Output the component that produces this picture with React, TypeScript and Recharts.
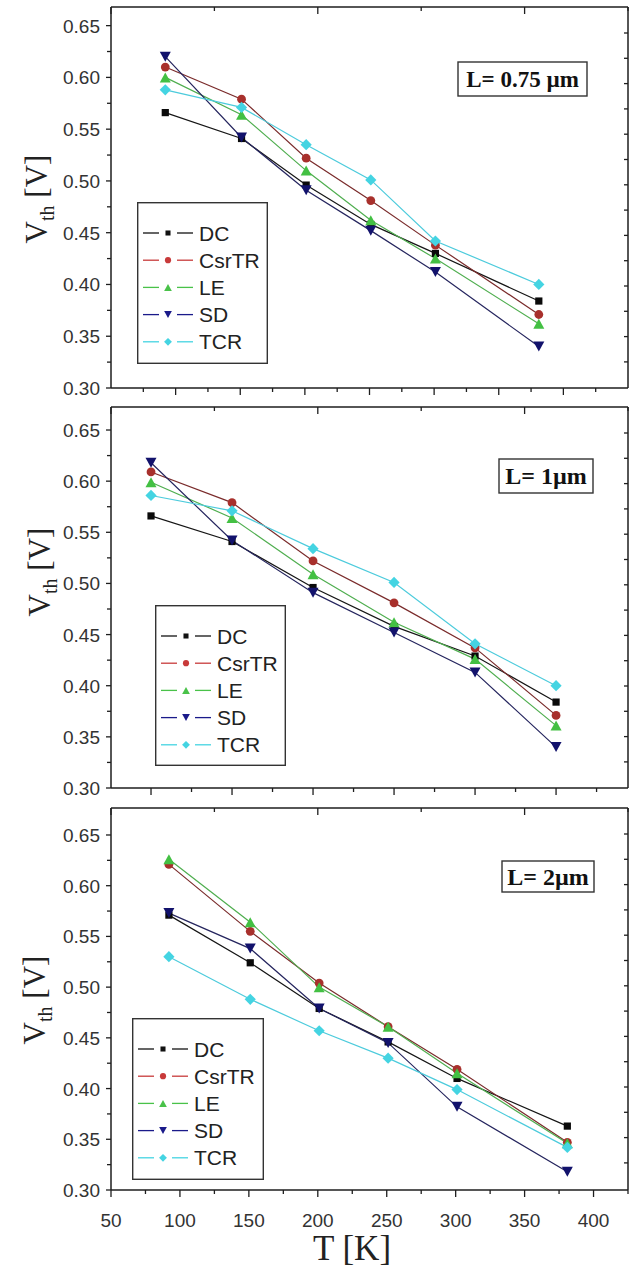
import React from 'react';
import { LineChart, Line, XAxis, YAxis, Legend } from 'recharts';

// ---------- series definitions ----------
const SERIES_KEYS = ['DC', 'CsrTR', 'LE', 'SD', 'TCR'];
const SERIES_MARKER_COLORS = ['#0a0a0a', '#a8302c', '#43c043', '#12126c', '#44d4e2'];
const SERIES_LINE_COLORS = ['#151515', '#7a2b2b', '#4fae4f', '#25255e', '#4ccbdc'];
const SERIES_LEGEND_COLORS = ['#111111', '#c83a3a', '#49c249', '#1a1a8a', '#44d4e2'];
const SERIES_SHAPES = ['square', 'circle', 'triangle', 'triangleDown', 'diamond'];

// ---------- panel 1 : L = 0.75 um ----------
const T_075 = [92, 151, 201, 251, 301, 381];
const DC_075 = [0.566, 0.541, 0.496, 0.458, 0.430, 0.384];
const CSRTR_075 = [0.610, 0.579, 0.522, 0.481, 0.438, 0.371];
const LE_075 = [0.600, 0.564, 0.510, 0.462, 0.425, 0.362];
const SD_075 = [0.620, 0.542, 0.491, 0.452, 0.412, 0.340];
const TCR_075 = [0.588, 0.571, 0.535, 0.501, 0.442, 0.400];

// ---------- panel 2 : L = 1 um ----------
const T_1 = [100, 150, 200, 250, 300, 350];
const DC_1 = [0.566, 0.541, 0.496, 0.458, 0.429, 0.384];
const CSRTR_1 = [0.609, 0.579, 0.522, 0.481, 0.437, 0.371];
const LE_1 = [0.599, 0.564, 0.509, 0.462, 0.426, 0.361];
const SD_1 = [0.618, 0.542, 0.491, 0.452, 0.413, 0.340];
const TCR_1 = [0.586, 0.571, 0.534, 0.501, 0.441, 0.400];

// ---------- panel 3 : L = 2 um ----------
const T_2 = [92, 151, 201, 251, 301, 381];
const DC_2 = [0.571, 0.524, 0.479, 0.446, 0.410, 0.363];
const CSRTR_2 = [0.621, 0.555, 0.504, 0.461, 0.419, 0.347];
const LE_2 = [0.626, 0.564, 0.500, 0.461, 0.415, 0.346];
const SD_2 = [0.573, 0.538, 0.479, 0.445, 0.382, 0.318];
const TCR_2 = [0.530, 0.488, 0.457, 0.430, 0.399, 0.342];

// ---------- ticks ----------
const Y_TICKS = [0.3, 0.325, 0.35, 0.375, 0.4, 0.425, 0.45, 0.475, 0.5, 0.525, 0.55, 0.575, 0.6, 0.625, 0.65];
const X_TICKS_1 = [75, 100, 125, 150, 175, 200, 225, 250, 275, 300, 325, 350, 375, 400, 425];
const X_TICKS_2 = [100, 125, 150, 175, 200, 225, 250, 275, 300, 325, 350, 375];
const X_TICKS_3 = [50, 75, 100, 125, 150, 175, 200, 225, 250, 275, 300, 325, 350, 375, 400, 425];
const TOP_TICKS = [0, 1, 2, 3, 4, 5, 6, 7, 8, 9, 10, 11, 12, 13];
const RIGHT_TICKS = [0, 1, 2, 3, 4, 5, 6, 7, 8, 9, 10, 11, 12, 13];

const TITLES = ['L= 0.75 µm', 'L= 1µm', 'L= 2µm'];

function buildRows(T: number[], cols: number[][]) {
  return T.map((t, i) => {
    const r: any = { T: t };
    SERIES_KEYS.forEach((k, j) => {
      r[k] = cols[j][i];
    });
    return r;
  });
}

const AXIS = '#1e1e1e';
const SANS = '"Liberation Sans", Arial, sans-serif';
const SERIF = '"Liberation Serif", "Times New Roman", serif';

function Marker({ shape, cx, cy, color, s = 1 }: any) {
  if (cx == null || cy == null) return null;
  switch (shape) {
    case 'square': {
      const h = 3.6 * s;
      return <rect x={cx - h} y={cy - h} width={2 * h} height={2 * h} fill={color} />;
    }
    case 'circle':
      return <circle cx={cx} cy={cy} r={4.4 * s} fill={color} />;
    case 'triangle': {
      const w = 5.5 * s;
      const h = 5 * s;
      return <polygon points={`${cx},${cy - h} ${cx + w},${cy + h} ${cx - w},${cy + h}`} fill={color} />;
    }
    case 'triangleDown': {
      const w = 5.5 * s;
      const h = 5 * s;
      return <polygon points={`${cx - w},${cy - h} ${cx + w},${cy - h} ${cx},${cy + h}`} fill={color} />;
    }
    case 'diamond': {
      const h = 5.6 * s;
      return <polygon points={`${cx},${cy - h} ${cx + h},${cy} ${cx},${cy + h} ${cx - h},${cy}`} fill={color} />;
    }
    default:
      return null;
  }
}

const LeftTick = (props: any) => {
  const { x, y, payload } = props;
  const v = payload.value;
  const major = Math.abs(Math.round(v * 20) - v * 20) < 1e-6;
  return (
    <g>
      <line x1={x - (major ? 5 : 4)} x2={x} y1={y} y2={y} stroke={AXIS} strokeWidth={1.3} />
      {major && (
        <text x={x - 11} y={y + 7} textAnchor="end" fontSize={19} fontFamily={SANS} fill="#333">
          {v.toFixed(2)}
        </text>
      )}
    </g>
  );
};

const RightTick = (props: any) => {
  const { x, y } = props;
  return <line x1={x - 4} x2={x} y1={y} y2={y} stroke={AXIS} strokeWidth={1.3} />;
};

const TopTick = (props: any) => {
  const { x, y, payload } = props;
  const major = payload.value % 2 === 0;
  return <line x1={x} x2={x} y1={y} y2={y + (major ? 7 : 4)} stroke={AXIS} strokeWidth={1.3} />;
};

const makeBottomTick = (showLabels: boolean) => (props: any) => {
  const { x, y, payload } = props;
  const v = payload.value;
  const major = v % 50 === 0;
  return (
    <g>
      <line x1={x} x2={x} y1={y} y2={y + (major ? 7 : 4)} stroke={AXIS} strokeWidth={1.3} />
      {showLabels && major && (
        <text x={x} y={y + 37} textAnchor="middle" fontSize={19} fontFamily={SANS} fill="#333">
          {v}
        </text>
      )}
    </g>
  );
};

const YLabel = ({ x, y }: any) => () => (
  <text
    x={x}
    y={y}
    transform={`rotate(-90, ${x}, ${y})`}
    textAnchor="middle"
    fontFamily={SERIF}
    fontSize={31}
    fill="#222"
  >
    <tspan>V</tspan>
    <tspan fontSize={20} dy={7}>th</tspan>
    <tspan dy={-7}> [V]</tspan>
  </text>
);

const TitleBox = ({ box, text }: any) => () => (
  <g>
    <rect x={box.x} y={box.y} width={box.w} height={box.h} fill="#fff" stroke="#333" strokeWidth={1.4} />
    <text
      x={box.x + box.w / 2}
      y={box.y + box.h / 2 + 8}
      textAnchor="middle"
      fontFamily={SERIF}
      fontWeight="bold"
      fontSize={box.fs}
      fill="#111"
    >
      {text}
    </text>
  </g>
);

const XLabel = ({ x, y }: any) => () => (
  <text x={x} y={y} textAnchor="middle" fontFamily={SERIF} fontSize={35} fill="#222">
    T [K]
  </text>
);

const makeLegend = (w: number, h: number) => (props: any) => {
  const payload = [...(props.payload || [])].sort(
    (a: any, b: any) => SERIES_KEYS.indexOf(a.dataKey) - SERIES_KEYS.indexOf(b.dataKey)
  );
  return (
    <svg width={w} height={h} style={{ display: 'block' }}>
      <rect x={0.7} y={0.7} width={w - 1.4} height={h - 1.4} fill="#fff" stroke="#333" strokeWidth={1.4} />
      {payload.map((p: any, i: number) => {
        const j = SERIES_KEYS.indexOf(p.dataKey);
        const cy = 31 + i * 27.2;
        const c = SERIES_LEGEND_COLORS[j];
        return (
          <g key={p.dataKey}>
            <line x1={6} x2={22} y1={cy} y2={cy} stroke={c} strokeWidth={1.3} />
            <line x1={40} x2={56} y1={cy} y2={cy} stroke={c} strokeWidth={1.3} />
            <Marker shape={SERIES_SHAPES[j]} cx={31} cy={cy} color={c} s={0.7} />
            <text x={62} y={cy + 7.5} fontFamily={SANS} fontSize={21} fill="#222">
              {p.value}
            </text>
          </g>
        );
      })}
    </svg>
  );
};

const PANELS = [
  {
    data: buildRows(T_075, [DC_075, CSRTR_075, LE_075, SD_075, TCR_075]),
    xDomain: [50, 450],
    xTicks: X_TICKS_1,
    yDomain: [0.3, 0.668],
    top: 0,
    height: 400,
    topH: 7,
    bottomH: 12,
    legend: { left: 137, top: 202, w: 131, h: 162 },
    title: { x: 458, y: 62, w: 129, h: 34, fs: 23 },
    ylabel: { x: 47, y: 199 },
    showX: false,
  },
  {
    data: buildRows(T_1, [DC_1, CSRTR_1, LE_1, SD_1, TCR_1]),
    xDomain: [75.3, 394.4],
    xTicks: X_TICKS_2,
    yDomain: [0.3, 0.6725],
    top: 400,
    height: 400,
    topH: 7,
    bottomH: 12,
    legend: { left: 155, top: 205, w: 131, h: 161 },
    title: { x: 499, y: 59, w: 94, h: 34, fs: 24 },
    ylabel: { x: 50, y: 172 },
    showX: false,
  },
  {
    data: buildRows(T_2, [DC_2, CSRTR_2, LE_2, SD_2, TCR_2]),
    xDomain: [50, 425],
    xTicks: X_TICKS_3,
    yDomain: [0.3, 0.6766],
    top: 800,
    height: 472,
    topH: 8,
    bottomH: 82,
    legend: { left: 132, top: 218, w: 132, h: 162 },
    title: { x: 502, y: 61, w: 92, h: 31, fs: 24 },
    ylabel: { x: 45, y: 200 },
    showX: true,
  },
];

function Panel({ p, idx }: any) {
  const plotH = p.height - p.topH - p.bottomH;
  const rDomain = [-26 / 25.3, (plotH - 26) / 25.3];
  return (
    <div style={{ position: 'absolute', left: 0, top: p.top, width: 632, height: p.height }}>
      <LineChart width={632} height={p.height} data={p.data} margin={{ top: 0, right: 0, bottom: 0, left: 0 }}>
        <XAxis
          xAxisId="bottom"
          type="number"
          dataKey="T"
          domain={p.xDomain}
          ticks={p.xTicks}
          interval={0}
          allowDataOverflow
          height={p.bottomH}
          tickSize={0}
          tickMargin={0}
          tickLine={false}
          axisLine={{ stroke: AXIS, strokeWidth: 1.5 }}
          tick={makeBottomTick(p.showX)}
          label={p.showX ? { content: XLabel({ x: 352, y: 460 }) } : undefined}
        />
        <XAxis
          xAxisId="top"
          orientation="top"
          type="number"
          domain={[-1.034, 13.034]}
          ticks={TOP_TICKS}
          interval={0}
          allowDataOverflow
          height={p.topH}
          tickSize={0}
          tickMargin={0}
          tickLine={false}
          axisLine={{ stroke: AXIS, strokeWidth: 1.5 }}
          tick={TopTick}
        />
        <YAxis
          yAxisId="left"
          type="number"
          domain={p.yDomain}
          ticks={Y_TICKS}
          interval={0}
          allowDataOverflow
          width={111}
          tickSize={0}
          tickMargin={0}
          tickLine={false}
          axisLine={{ stroke: AXIS, strokeWidth: 1.5 }}
          tick={LeftTick}
          label={{ content: YLabel(p.ylabel) }}
        />
        <YAxis
          yAxisId="right"
          orientation="right"
          type="number"
          reversed
          domain={rDomain}
          ticks={RIGHT_TICKS}
          interval={0}
          allowDataOverflow
          width={4}
          tickSize={0}
          tickMargin={0}
          tickLine={false}
          axisLine={{ stroke: AXIS, strokeWidth: 1.5 }}
          tick={RightTick}
          label={{ content: TitleBox({ box: p.title, text: TITLES[idx] }) }}
        />
        <Legend
          layout="vertical"
          align="center"
          verticalAlign="middle"
          content={makeLegend(p.legend.w, p.legend.h)}
          wrapperStyle={{ position: 'absolute', left: p.legend.left, top: p.legend.top, width: p.legend.w, height: p.legend.h }}
        />
        {SERIES_KEYS.map((k, j) => (
          <Line
            key={k}
            xAxisId="bottom"
            yAxisId="left"
            dataKey={k}
            name={k}
            stroke={SERIES_LINE_COLORS[j]}
            strokeWidth={1.2}
            isAnimationActive={false}
            dot={(dp: any) => (
              <Marker key={`${k}-${dp.index}`} shape={SERIES_SHAPES[j]} cx={dp.cx} cy={dp.cy} color={SERIES_MARKER_COLORS[j]} />
            )}
            activeDot={false}
          />
        ))}
      </LineChart>
    </div>
  );
}

export default function App() {
  return (
    <div style={{ position: 'absolute', left: 0, top: 0, width: 632, height: 1272, background: '#fff', overflow: 'hidden' }}>
      {PANELS.map((p, i) => (
        <Panel key={i} p={p} idx={i} />
      ))}
    </div>
  );
}
